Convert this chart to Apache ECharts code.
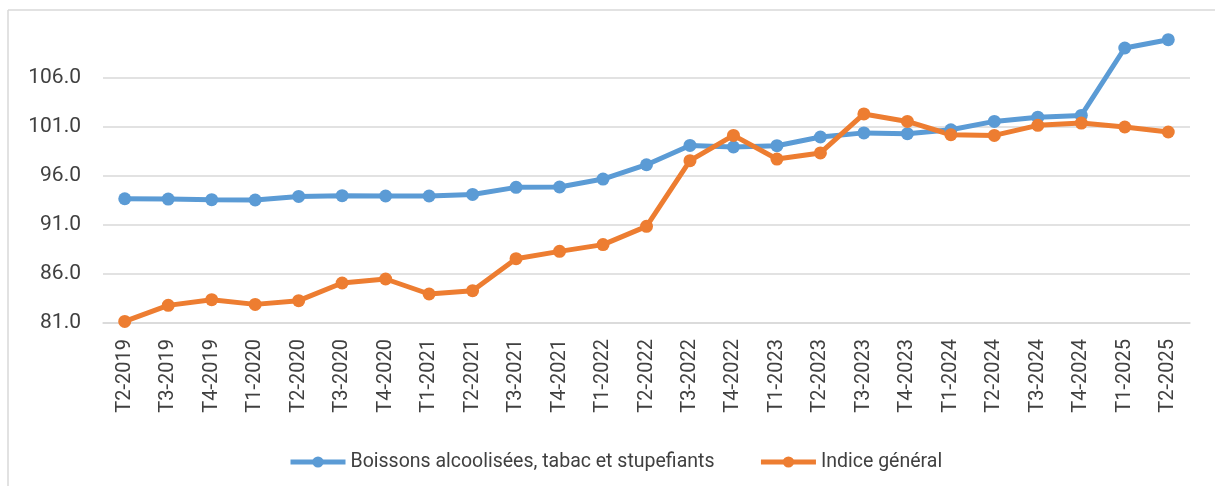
<!DOCTYPE html>
<html>
<head>
<meta charset="utf-8">
<script src="https://cdn.jsdelivr.net/npm/echarts@6/dist/echarts.min.js"></script>
<style>
  html, body { margin: 0; padding: 0; background: #fff; }
  #line { width: 1215px; height: 486px; }
</style>
</head>
<body>
<div id="line"></div>
<script>
var categories = ['T2-2019', 'T3-2019', 'T4-2019', 'T1-2020', 'T2-2020', 'T3-2020', 'T4-2020',
    'T1-2021', 'T2-2021', 'T3-2021', 'T4-2021', 'T1-2022', 'T2-2022', 'T3-2022', 'T4-2022',
    'T1-2023', 'T2-2023', 'T3-2023', 'T4-2023', 'T1-2024', 'T2-2024', 'T3-2024', 'T4-2024',
    'T1-2025', 'T2-2025'];

var boissons = [93.68, 93.65, 93.58, 93.55, 93.92, 93.99, 93.96, 93.96, 94.12, 94.84, 94.88,
    95.69, 97.15, 99.12, 98.96, 99.09, 99.98, 100.40, 100.32, 100.72, 101.57, 102.00, 102.18,
    109.06, 109.91];

var indiceGeneral = [81.16, 82.80, 83.38, 82.90, 83.28, 85.08, 85.49, 83.96, 84.30, 87.56, 88.31,
    89.00, 90.86, 97.56, 100.14, 97.73, 98.35, 102.33, 101.57, 100.21, 100.14, 101.17, 101.40,
    101.00, 100.49];

var yMin = 81, yMax = 111, yStep = 5;

var textColor = '#404040';
var gridColor = '#d9d9d9';
var font = 'Roboto';

var chart = echarts.init(document.getElementById('line'), null, {renderer: 'canvas'});

function lineSeries(name, data, color) {
    return {
        name: name,
        type: 'line',
        data: data,
        symbol: 'circle',
        symbolSize: 13,
        lineStyle: {width: 5, color: color},
        itemStyle: {color: color},
        animation: false
    };
}

chart.setOption({
    backgroundColor: '#fff',
    textStyle: {fontFamily: font},
    grid: {left: 103, right: 25, top: 29, bottom: 163},
    graphic: [
        {type: 'line', shape: {x1: 8, y1: 10, x2: 1215, y2: 10}, style: {stroke: gridColor, lineWidth: 1.5}},
        {type: 'line', shape: {x1: 8, y1: 10, x2: 8, y2: 486}, style: {stroke: gridColor, lineWidth: 1.5}}
    ],
    legend: {
        left: 288,
        top: 452,
        padding: 0,
        itemWidth: 55,
        itemHeight: 14,
        itemGap: 44,
        lineStyle: {width: 5},
        textStyle: {color: textColor, fontFamily: font, fontSize: 19.5},
        data: ['Boissons alcoolisées, tabac et stupefiants', 'Indice général']
    },
    xAxis: {
        type: 'category',
        data: categories,
        boundaryGap: true,
        axisLine: {lineStyle: {color: gridColor, width: 1.5}},
        axisTick: {show: false},
        axisLabel: {
            rotate: 90,
            interval: 0,
            margin: 16,
            color: textColor,
            fontFamily: font,
            fontSize: 20
        }
    },
    yAxis: {
        type: 'value',
        min: yMin,
        max: yMax,
        interval: yStep,
        axisLine: {show: false},
        axisTick: {show: false},
        splitLine: {show: true, showMaxLine: false, lineStyle: {color: gridColor, width: 1.5}},
        axisLabel: {
            showMaxLabel: false,
            margin: 22,
            color: textColor,
            fontFamily: font,
            fontSize: 21,
            formatter: function (v) { return v.toFixed(1); }
        }
    },
    series: [
        lineSeries('Boissons alcoolisées, tabac et stupefiants', boissons, '#5b9bd5'),
        lineSeries('Indice général', indiceGeneral, '#ed7d31')
    ]
});
</script>
</body>
</html>
